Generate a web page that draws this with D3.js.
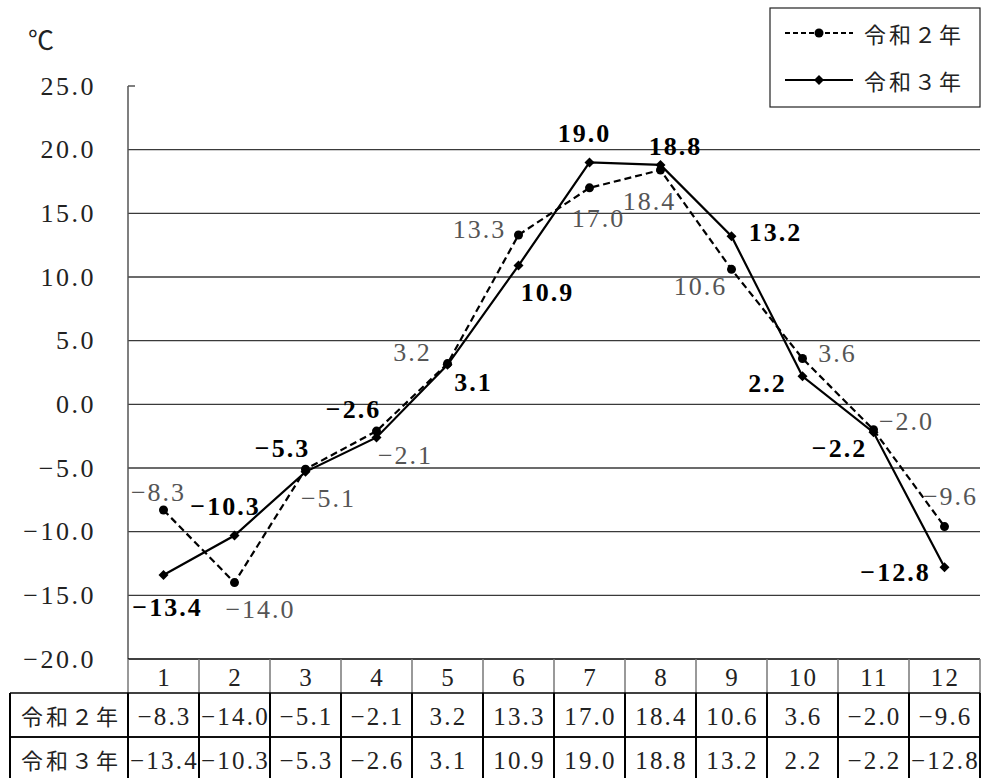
<!DOCTYPE html>
<html>
<head>
<meta charset="utf-8">
<script src="https://d3js.org/d3.v7.min.js"></script>
<style>
  body { margin: 0; background: #fff; }
  text { font-family: "Liberation Serif", "Noto Sans CJK JP", serif; }
  .num { font-size: 25px; letter-spacing: 2.2px; fill: #222; }
  .lblA { font-size: 26px; letter-spacing: 2px; fill: #555; }
  .lblB { font-size: 26px; letter-spacing: 2px; fill: #000; font-weight: bold; }
  .jp { font-family: "Noto Sans CJK JP", sans-serif; font-size: 22px; fill: #222; letter-spacing: 3px; }
</style>
</head>
<body>
<script>
var months = ["1", "2", "3", "4", "5", "6", "7", "8", "9", "10", "11", "12"];
var seriesNames = ["令和２年", "令和３年"];
var r2 = [-8.3, -14.0, -5.1, -2.1, 3.2, 13.3, 17.0, 18.4, 10.6, 3.6, -2.0, -9.6];
var r3 = [-13.4, -10.3, -5.3, -2.6, 3.1, 10.9, 19.0, 18.8, 13.2, 2.2, -2.2, -12.8];
var yTicks = [25, 20, 15, 10, 5, 0, -5, -10, -15, -20];

// label offsets from the point (layout only)
var offA = [[-5, -18], [26, 27], [23, 29], [29, 24], [-35, -11], [-39, -5], [9, 31], [-11, 31], [-31, 17], [35, -5], [33, -8], [6, -30]];
var offB = [[4, 33], [-9, -29], [-23, -23], [-23, -28], [26, 18], [29, 27], [-5, -29], [15, -18], [44, -4], [-35, 7], [-34, 16], [-49, 5]];

var W = 983, H = 778;
var m = { left: 128, right: 980, top: 86, bottom: 659 };
var rowH = 44, headH = 34, tableLeft = 10;

var svg = d3.select("body").append("svg")
  .attr("width", W).attr("height", H);

var x = d3.scaleBand().domain(months).range([m.left, m.right]).padding(0);
var y = d3.scaleLinear().domain([-20, 25]).range([m.bottom, m.top]);
var cx = function(i) { return x(months[i]) + x.bandwidth() / 2; };

var fmt = function(v) { return d3.format(".1f")(v).replace("-", "−"); };

// unit
svg.append("text").attr("x", 28).attr("y", 50)
  .style("font-family", "'Noto Sans CJK JP'").style("font-size", "26px").style("fill", "#222").text("℃");

// gridlines
svg.selectAll(".grid").data(yTicks.filter(function(d) { return d < 25 && d > -20; }))
  .enter().append("line")
  .attr("x1", m.left).attr("x2", m.right)
  .attr("y1", function(d) { return y(d); }).attr("y2", function(d) { return y(d); })
  .attr("stroke", "#3a3a3a").attr("stroke-width", 1.3);

// axis line and top tick
svg.append("line").attr("x1", m.left).attr("x2", m.left).attr("y1", y(25)).attr("y2", y(-20))
  .attr("stroke", "#555").attr("stroke-width", 1.5);
svg.append("line").attr("x1", m.left).attr("x2", m.left + 7).attr("y1", y(25)).attr("y2", y(25))
  .attr("stroke", "#555").attr("stroke-width", 1.5);

// tick labels
svg.selectAll(".ytick").data(yTicks).enter().append("text")
  .attr("class", "num")
  .attr("x", 96).attr("y", function(d) { return y(d); })
  .attr("text-anchor", "end").attr("dominant-baseline", "central")
  .style("font-size", "26px").style("letter-spacing", "2.5px")
  .text(function(d) { return fmt(d); });

// table
var rowTop = m.bottom + headH;
svg.append("line").attr("x1", m.left).attr("x2", m.right).attr("y1", m.bottom).attr("y2", m.bottom)
  .attr("stroke", "#000").attr("stroke-width", 1.5);
months.forEach(function(mo, i) {
  svg.append("line").attr("x1", x(mo)).attr("x2", x(mo)).attr("y1", m.bottom).attr("y2", rowTop)
    .attr("stroke", "#777").attr("stroke-width", 1.5);
  svg.append("text").attr("class", "num").attr("x", cx(i) + 1).attr("y", m.bottom + headH / 2 + 1)
    .attr("text-anchor", "middle").attr("dominant-baseline", "central").text(mo);
});
svg.append("line").attr("x1", m.right).attr("x2", m.right).attr("y1", m.bottom).attr("y2", rowTop)
  .attr("stroke", "#777").attr("stroke-width", 1.5);

[r2, r3].forEach(function(vals, r) {
  var ty = rowTop + r * rowH;
  svg.append("line").attr("x1", tableLeft).attr("x2", m.right).attr("y1", ty).attr("y2", ty)
    .attr("stroke", "#000").attr("stroke-width", 1.5);
  svg.append("line").attr("x1", tableLeft).attr("x2", m.right).attr("y1", ty + rowH).attr("y2", ty + rowH)
    .attr("stroke", "#000").attr("stroke-width", 1.5);
  [tableLeft, m.right].concat(months.map(function(mo) { return x(mo); })).forEach(function(lx) {
    svg.append("line").attr("x1", lx).attr("x2", lx).attr("y1", ty).attr("y2", ty + rowH)
      .attr("stroke", "#000").attr("stroke-width", 2);
  });
  svg.append("text").attr("class", "jp").attr("x", (tableLeft + m.left) / 2 + 2).attr("y", ty + rowH / 2)
    .attr("text-anchor", "middle").attr("dominant-baseline", "central").text(seriesNames[r]);
  vals.forEach(function(v, i) {
    svg.append("text").attr("class", "num").attr("x", cx(i) + 1).attr("y", ty + rowH / 2 + 1)
      .attr("text-anchor", "middle").attr("dominant-baseline", "central").text(fmt(v));
  });
});

// lines
var line = d3.line().x(function(d, i) { return cx(i); }).y(function(d) { return y(d); });
svg.append("path").datum(r2).attr("d", line).attr("fill", "none")
  .attr("stroke", "#000").attr("stroke-width", 2.2).attr("stroke-dasharray", "7,4");
svg.append("path").datum(r3).attr("d", line).attr("fill", "none")
  .attr("stroke", "#000").attr("stroke-width", 2.2);

var diamond = d3.symbol().type(d3.symbolSquare).size(50);
svg.selectAll(".ptA").data(r2).enter().append("circle")
  .attr("cx", function(d, i) { return cx(i); }).attr("cy", function(d) { return y(d); })
  .attr("r", 4.5).attr("fill", "#000");
svg.selectAll(".ptB").data(r3).enter().append("path")
  .attr("d", diamond)
  .attr("transform", function(d, i) { return "translate(" + cx(i) + "," + y(d) + ") rotate(45)"; })
  .attr("fill", "#000");

// labels
svg.selectAll(".la").data(r2).enter().append("text")
  .attr("class", "lblA").attr("text-anchor", "middle").attr("dominant-baseline", "central")
  .attr("x", function(d, i) { return cx(i) + offA[i][0]; })
  .attr("y", function(d, i) { return y(d) + offA[i][1]; })
  .text(function(d) { return fmt(d); });
svg.selectAll(".lb").data(r3).enter().append("text")
  .attr("class", "lblB").attr("text-anchor", "middle").attr("dominant-baseline", "central")
  .attr("x", function(d, i) { return cx(i) + offB[i][0]; })
  .attr("y", function(d, i) { return y(d) + offB[i][1]; })
  .text(function(d) { return fmt(d); });

// legend
var lg = svg.append("g");
lg.append("rect").attr("x", 770).attr("y", 8).attr("width", 210).attr("height", 99)
  .attr("fill", "#fff").attr("stroke", "#222").attr("stroke-width", 1.2);
[0, 1].forEach(function(k) {
  var ly = 33 + k * 47;
  lg.append("line").attr("x1", 785).attr("x2", 853).attr("y1", ly).attr("y2", ly)
    .attr("stroke", "#000").attr("stroke-width", 2.2)
    .attr("stroke-dasharray", k === 0 ? "5,3" : null);
  if (k === 0) {
    lg.append("circle").attr("cx", 819).attr("cy", ly).attr("r", 4.5).attr("fill", "#000");
  } else {
    lg.append("path").attr("d", diamond).attr("transform", "translate(819," + ly + ") rotate(45)").attr("fill", "#000");
  }
  lg.append("text").attr("class", "jp").attr("x", 864).attr("y", ly)
    .attr("dominant-baseline", "central").text(seriesNames[k]);
});
</script>
</body>
</html>
